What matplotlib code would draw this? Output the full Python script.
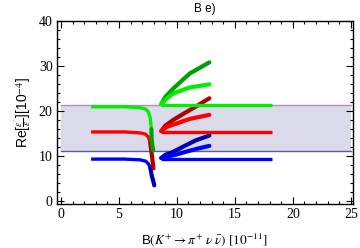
import matplotlib
matplotlib.use("Agg")
import matplotlib.pyplot as plt
from matplotlib.ticker import MultipleLocator

plt.rcParams['mathtext.fontset'] = 'stix'

# band (experimental range)
band_x = [0, 25]
band_lo = 11.07
band_hi = 21.45

# horizontal branches to the right of the pole
right_x = [8.6, 18.2]
green_right_y = [21.3, 21.3]
red_right_y = [15.4, 15.4]
blue_right_y = [9.35, 9.35]

# left branches, bending down at the pole
green_left_x = [2.6, 5.5, 6.8, 7.3, 7.55, 7.7, 7.8]
green_left_y = [21.0, 21.0, 20.8, 20.5, 19.8, 18.5, 16.0]
green_pole_x = [7.8, 7.82, 7.88, 7.95]
green_pole_y = [16.0, 14.0, 12.5, 11.3]

red_left_x = [2.6, 5.5, 6.8, 7.3, 7.55, 7.7]
red_left_y = [15.4, 15.4, 15.2, 14.9, 14.2, 13.0]
red_pole_x = [7.7, 7.8, 7.9, 7.98]
red_pole_y = [13.0, 11.0, 9.0, 7.3]

blue_left_x = [2.6, 5.5, 6.8, 7.3, 7.55, 7.7]
blue_left_y = [9.35, 9.35, 9.2, 8.9, 8.3, 7.4]
blue_pole_x = [7.7, 7.85, 7.98, 8.05]
blue_pole_y = [7.4, 5.5, 4.3, 3.5]

# fans rising to the right
green_fan1_x = [8.65, 9.0, 9.7, 11.1, 12.8]
green_fan1_y = [21.6, 23.2, 25.1, 28.4, 30.9]
green_fan2_x = [8.65, 9.1, 9.7, 11.1, 12.8]
green_fan2_y = [21.6, 22.8, 24.0, 25.3, 26.0]

red_fan1_x = [8.65, 9.0, 9.7, 10.6, 11.6, 12.8]
red_fan1_y = [15.6, 16.8, 18.1, 19.5, 21.0, 22.9]
red_fan2_x = [8.65, 9.1, 10.0, 11.1, 12.8]
red_fan2_y = [15.6, 16.5, 17.3, 18.3, 19.2]

blue_fan1_x = [8.65, 9.0, 9.7, 10.6, 11.6, 12.8]
blue_fan1_y = [9.6, 10.3, 11.0, 12.2, 13.5, 14.6]
blue_fan2_x = [8.65, 9.3, 10.0, 10.8, 11.8, 12.8]
blue_fan2_y = [9.6, 10.0, 10.4, 11.0, 11.7, 12.3]

light = {"green": "#00ee00", "red": "#ff0000", "blue": "#0000ff"}
dark = {"green": "#00a000", "red": "#b00000", "blue": "#0000b4"}

fig = plt.figure(figsize=(3.6, 2.48), dpi=100)
ax = fig.add_axes([0.158, 0.177, 0.822, 0.74])

ax.fill_between(band_x, band_lo, band_hi, color="#dadaea", lw=0, zorder=1)
ax.plot(band_x, [band_hi, band_hi], color="#b48cb4", lw=1.0, zorder=2)
ax.plot(band_x, [band_lo, band_lo], color="#5a5aa8", lw=1.0, zorder=2)

lw_h = 2.4
lw_f = 3.0
curves = [
    ("blue", blue_left_x, blue_left_y, blue_pole_x, blue_pole_y, blue_right_y,
     blue_fan1_x, blue_fan1_y, blue_fan2_x, blue_fan2_y),
    ("red", red_left_x, red_left_y, red_pole_x, red_pole_y, red_right_y,
     red_fan1_x, red_fan1_y, red_fan2_x, red_fan2_y),
    ("green", green_left_x, green_left_y, green_pole_x, green_pole_y, green_right_y,
     green_fan1_x, green_fan1_y, green_fan2_x, green_fan2_y),
]
for c, lx, ly, px, py, ry, f1x, f1y, f2x, f2y in curves:
    ax.plot(f1x, f1y, color=dark[c], lw=lw_f, solid_capstyle="round", zorder=3)
    ax.plot(f2x, f2y, color=light[c], lw=lw_f, solid_capstyle="round", zorder=3)
    ax.plot(right_x, ry, color=light[c], lw=lw_h, solid_capstyle="butt", zorder=4)
    ax.plot(lx, ly, color=light[c], lw=lw_h, solid_capstyle="butt", zorder=4)
    ax.plot(px, py, color=dark[c], lw=lw_f, solid_capstyle="round", zorder=4)

ax.set_xlim(-0.35, 25.17)
ax.set_ylim(-0.67, 40.2)
ax.xaxis.set_major_locator(MultipleLocator(5))
ax.xaxis.set_minor_locator(MultipleLocator(1))
ax.yaxis.set_major_locator(MultipleLocator(10))
ax.yaxis.set_minor_locator(MultipleLocator(2))
ax.tick_params(which="both", direction="in", top=True, right=True, width=0.8)
ax.tick_params(which="major", length=5, labelsize=10, pad=3)
ax.tick_params(which="minor", length=2.5)
for lab in ax.get_xticklabels() + ax.get_yticklabels():
    lab.set_fontfamily("Liberation Serif")
for sp in ax.spines.values():
    sp.set_linewidth(1.0)

ax.set_xlabel(r"B$(K^{+}\rightarrow\pi^{+}\ \nu\ \bar{\nu})\ [10^{-11}]$",
              fontsize=9.5, fontfamily="Liberation Sans", labelpad=7)
ax.set_ylabel(r"Re[$\frac{\epsilon'}{\epsilon}$][10$^{-4}$]",
              fontsize=10, fontfamily="Liberation Sans", labelpad=4)
ax.set_title("B e)", fontsize=8.5, fontfamily="Liberation Sans", pad=6)

fig.savefig("out.png", dpi=100)
